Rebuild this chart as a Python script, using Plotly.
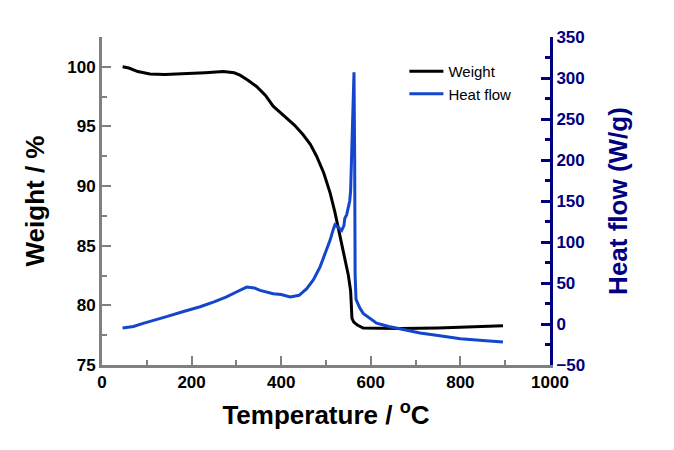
import plotly.graph_objects as go

# Weight (TGA) curve
temp_w = [46, 60, 80, 107, 140, 181, 230, 271, 295, 308, 325, 345, 365, 382, 400, 412, 430, 449, 465, 479, 495, 509, 520, 531, 541, 550, 555, 557, 558, 562, 570, 583, 620, 665, 750, 850, 895]
weight = [100.0, 99.9, 99.6, 99.4, 99.35, 99.4, 99.5, 99.6, 99.5, 99.3, 98.9, 98.35, 97.6, 96.7, 96.05, 95.7, 95.1, 94.3, 93.5, 92.5, 91.1, 89.45, 87.8, 85.8, 84.1, 82.5, 81.2, 80.2, 78.9, 78.6, 78.35, 78.1, 78.05, 78.05, 78.1, 78.2, 78.3]

# Heat flow (DSC) curve
temp_h = [46, 70, 92, 120, 144, 180, 219, 250, 278, 300, 323, 340, 353, 382, 400, 420, 440, 457, 472, 487, 500, 509, 516, 520, 527, 535, 540, 542, 546, 550, 553, 555, 558, 560, 562.5, 564, 565, 567, 575, 583, 600, 613, 640, 665, 710, 750, 800, 850, 895]
heat_flow = [-5, -3, 0.8, 5, 9, 15, 21, 27, 33, 39, 45, 44, 41, 37, 36, 33, 35, 43, 54, 70, 88, 102, 115, 121, 118, 114, 120, 129, 133, 143, 150, 163, 230, 285, 307, 200, 60, 30, 20, 13, 6, 1, -3, -6, -11, -14, -18, -20, -22]

FONT = "Liberation Sans, Arial, sans-serif"
GREY = "#808080"
NAVY = "#000080"
BLUE = "#1446CC"

fig = go.Figure()
fig.add_trace(go.Scatter(x=temp_w, y=weight, name="Weight", mode="lines",
                         line=dict(color="black", width=3), yaxis="y"))
fig.add_trace(go.Scatter(x=temp_h, y=heat_flow, name="Heat flow", mode="lines",
                         line=dict(color=BLUE, width=3), yaxis="y2"))

fig.update_layout(
    width=674, height=450,
    margin=dict(l=94, r=132, t=29, b=93),
    plot_bgcolor="white", paper_bgcolor="white",
    font=dict(family=FONT, color="black"),
    showlegend=True,
    legend=dict(x=0.675, y=0.945, xanchor="left", yanchor="top",
                font=dict(size=15, family=FONT, color="black"),
                bgcolor="rgba(0,0,0,0)", tracegroupgap=0, itemwidth=34),
    xaxis=dict(range=[0, 1000], dtick=200, tick0=0, automargin=False,
               showline=True, linecolor=GREY, linewidth=3,
               ticks="inside", ticklen=9, tickwidth=2, tickcolor=GREY,
               minor=dict(ticks="inside", ticklen=5, tickwidth=2, tickcolor=GREY, dtick=100),
               showgrid=False, zeroline=False,
               tickfont=dict(size=17, family=FONT, color="black", weight="bold"),
               title=dict(text="Temperature / <sup>o</sup>C", standoff=15,
                          font=dict(size=26, family=FONT, color="black", weight="bold"))),
    yaxis=dict(range=[75, 102.5], dtick=5, tick0=75, automargin=False,
               showline=True, linecolor=GREY, linewidth=3,
               ticks="inside", ticklen=9, tickwidth=2, tickcolor=GREY,
               minor=dict(ticks="inside", ticklen=5, tickwidth=2, tickcolor=GREY, dtick=2.5),
               showgrid=False, zeroline=False,
               tickfont=dict(size=17, family=FONT, color="black", weight="bold"),
               title=dict(text="Weight / %", standoff=16,
                          font=dict(size=26, family=FONT, color="black", weight="bold"))),
    yaxis2=dict(range=[-50, 350], dtick=50, tick0=-50, overlaying="y", side="right",
                automargin=False,
                showline=True, linecolor=NAVY, linewidth=3,
                ticks="inside", ticklen=9, tickwidth=3, tickcolor=NAVY,
                minor=dict(ticks="inside", ticklen=5, tickwidth=3, tickcolor=NAVY, dtick=25),
                showgrid=False, zeroline=False,
                tickfont=dict(size=17, family=FONT, color=NAVY, weight="bold"),
                title=dict(text="Heat flow (W/g)", standoff=25,
                           font=dict(size=26, family=FONT, color=NAVY, weight="bold"))),
)

fig.write_html("out.html")
